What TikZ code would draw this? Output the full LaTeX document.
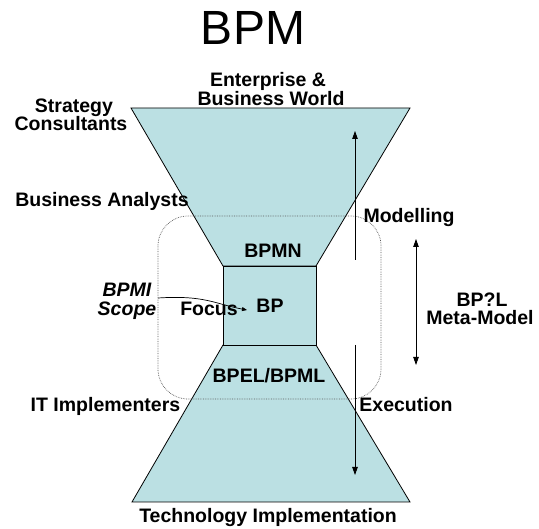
\documentclass[tikz,border=0pt]{standalone}
\usepackage{fontspec}
\setmainfont{Liberation Sans}
\usetikzlibrary{arrows.meta}
\definecolor{hgfill}{HTML}{BBE0E3}
\begin{document}
\begin{tikzpicture}[x=1pt,y=-1pt,
  lbl/.style={font=\fontsize{19.5}{20}\selectfont\bfseries, inner sep=0pt, anchor=base},
  ilbl/.style={lbl, font=\fontsize{19.5}{20}\selectfont\bfseries\itshape},
  glass/.style={fill=hgfill, draw=black, line width=0.8pt, line join=miter},
  scopebox/.style={draw=black!65, densely dotted, line width=0.7pt, rounded corners=30pt},
  vflow/.style={line width=0.8pt, -{Triangle[length=8pt,width=5.5pt]}},
  vboth/.style={line width=0.8pt, {Triangle[length=8pt,width=5.5pt]}-{Triangle[length=8pt,width=5.5pt]}},
  focusarrow/.style={line width=0.7pt, -{Triangle[length=5pt,width=4pt]}}]
\useasboundingbox (0,0) rectangle (539,529);

% hourglass
\filldraw[glass] (131,108) -- (410,108) -- (316,266) -- (223,266) -- cycle;
\filldraw[glass] (223,345) -- (316,345) -- (410,502) -- (132,502) -- cycle;
\filldraw[glass] (223,266) rectangle (316,345);

% BPMI scope box
\draw[scopebox] (158,216) rectangle (381,399);

% arrows
\coordinate (upS) at (355,260);
\coordinate (upE) at (355,131);
\coordinate (dnS) at (355,345);
\coordinate (dnE) at (355,475);
\coordinate (mmT) at (416,239);
\coordinate (mmB) at (416,365);
\draw[vflow] (upS) -- (upE);
\draw[vflow] (dnS) -- (dnE);
\draw[vboth] (mmT) -- (mmB);

% texts
\node[font=\fontsize{48}{48}\selectfont, inner sep=0pt, anchor=base] (title) at (253,45) {BPM};
\node[lbl] (ent1) at (268,87) {Enterprise \&};
\node[lbl] (ent2) at (271,106) {Business World};
\node[lbl] (str1) at (74,112.5) {Strategy};
\node[lbl] (str2) at (71,131) {Consultants};
\node[lbl] (ba) at (102,207) {Business Analysts};
\node[lbl] (mod) at (409,223) {Modelling};
\node[lbl] (bpmn) at (273,258) {BPMN};
\node[ilbl] (bpmi) at (127,297) {BPMI};
\node[ilbl] (scope) at (127,315.5) {Scope};
\node[lbl] (focus) at (209,316) {Focus};
\node[lbl] (bp) at (270,313) {BP};
\node[lbl] (bpl) at (482,307) {BP?L};
\node[lbl] (meta) at (480,325) {Meta-Model};
\node[lbl] (bpel) at (269,383) {BPEL/BPML};
\node[lbl] (it) at (105.5,412) {IT Implementers};
\node[lbl] (exec) at (406,412) {Execution};
\node[lbl] (tech) at (268,523) {Technology Implementation};

% focus arrow
\coordinate (fs) at (158,298);
\coordinate (fe) at (247,310);
\draw[focusarrow] (fs) .. controls (205,295) and (215,304) .. (fe);
\end{tikzpicture}
\end{document}
